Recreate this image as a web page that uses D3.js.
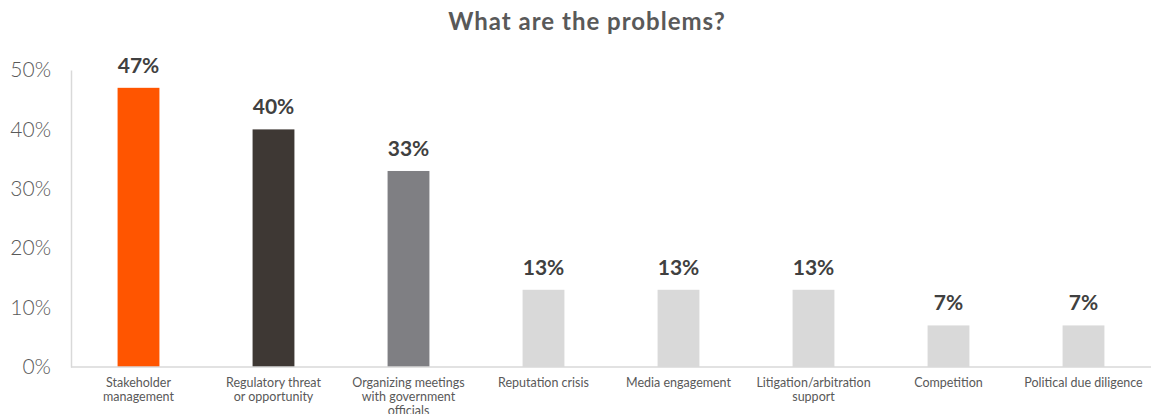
<!DOCTYPE html>
<html>
<head>
<meta charset="utf-8">
<script src="https://cdn.jsdelivr.net/npm/d3@7"></script>
<style>
    body { margin: 0; background: #fff; }
    text { font-family: Lato, "Open Sans", sans-serif; }
</style>
</head>
<body>
<script>
    // chart data
    var categories = ["Stakeholder\nmanagement", "Regulatory threat\nor opportunity",
        "Organizing meetings\nwith government\nofficials", "Reputation crisis",
        "Media engagement", "Litigation/arbitration\nsupport", "Competition",
        "Political due diligence"];
    var values = [47, 40, 33, 13, 13, 13, 7, 7];
    var barColors = ["#ff5500", "#3e3834", "#7f7f83", "#d9d9d9", "#d9d9d9", "#d9d9d9", "#d9d9d9", "#d9d9d9"];
    var yTicks = [0, 10, 20, 30, 40, 50];

    var w = 1160, h = 414;
    var mLeft = 71, mRight = 1151, mTop = 70, mBottom = 367;

    var svg = d3.select("body").append("svg")
        .attr("width", w)
        .attr("height", h);

    var x = d3.scaleBand()
        .domain(d3.range(categories.length))
        .range([mLeft, mRight])
        .paddingInner(0.69)
        .paddingOuter(0.345);

    var y = d3.scaleLinear()
        .domain([0, 50])
        .range([mBottom, mTop]);

    // title
    svg.append("text")
        .attr("x", 587)
        .attr("y", 30)
        .attr("text-anchor", "middle")
        .attr("font-size", "24px")
        .attr("font-weight", "bold")
        .attr("letter-spacing", "1px")
        .attr("fill", "#595959")
        .text("What are the problems?");

    // y axis
    var yAxis = svg.append("g")
        .attr("transform", "translate(" + mLeft + ",0)")
        .call(d3.axisLeft(y).tickValues(yTicks).tickSize(0).tickPadding(20)
            .tickFormat(function(d) { return d + "%"; }));
    yAxis.select(".domain").attr("stroke", "#d9d9d9").attr("stroke-width", 1.5);
    yAxis.selectAll("text")
        .attr("font-size", "21px")
        .attr("font-weight", 300)
        .attr("fill", "#595959");

    // bars
    svg.selectAll("rect.bar")
        .data(values)
        .enter()
        .append("rect")
        .attr("class", "bar")
        .attr("x", function(d, i) { return x(i); })
        .attr("y", function(d) { return y(d); })
        .attr("width", x.bandwidth())
        .attr("height", function(d) { return y(0) - y(d); })
        .attr("fill", function(d, i) { return barColors[i]; });

    // baseline
    svg.append("line")
        .attr("x1", mLeft).attr("x2", mRight)
        .attr("y1", y(0)).attr("y2", y(0))
        .attr("stroke", "#d9d9d9")
        .attr("stroke-width", 1.5);

    // value labels
    svg.selectAll("text.val")
        .data(values)
        .enter()
        .append("text")
        .attr("class", "val")
        .attr("x", function(d, i) { return x(i) + x.bandwidth() / 2; })
        .attr("y", function(d) { return y(d) - 15; })
        .attr("text-anchor", "middle")
        .attr("font-size", "21px")
        .attr("font-weight", "bold")
        .attr("fill", "#404040")
        .text(function(d) { return d + "%"; });

    // category labels
    var labels = svg.selectAll("text.cat")
        .data(categories)
        .enter()
        .append("text")
        .attr("class", "cat")
        .attr("text-anchor", "middle")
        .attr("font-size", "12.5px")
        .attr("fill", "#595959");
    labels.each(function(d, i) {
        var t = d3.select(this);
        d.split("\n").forEach(function(line, k) {
            t.append("tspan")
                .attr("x", x(i) + x.bandwidth() / 2)
                .attr("y", 387 + k * 14)
                .text(line);
        });
    });
</script>
</body>
</html>
